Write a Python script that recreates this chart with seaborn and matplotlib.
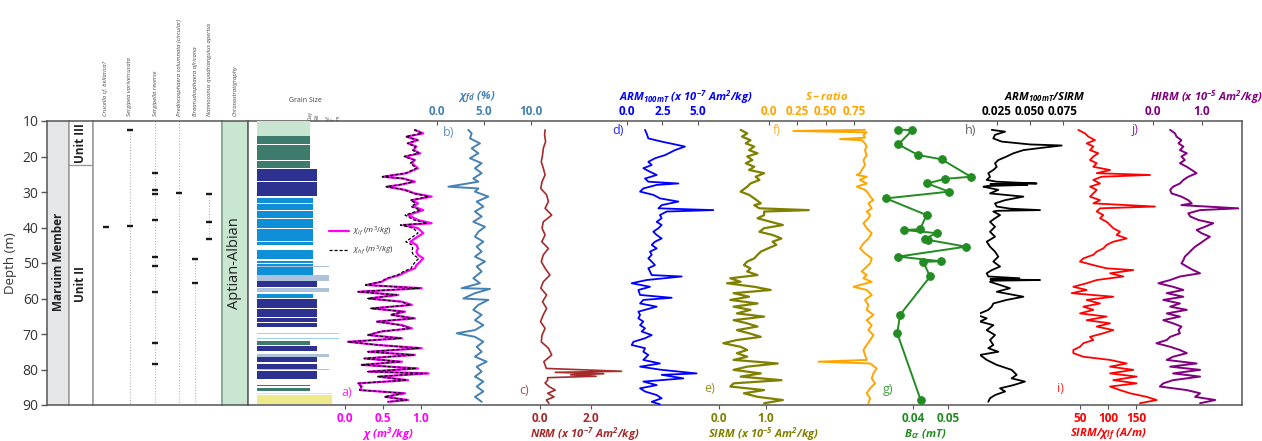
import matplotlib
matplotlib.use("Agg")
import matplotlib.pyplot as plt
import seaborn as sns

# ---------------------------------------------------------------- data
# a) magnetic susceptibility (low / high frequency)
chi_depth = [12.5, 13.5, 14.4, 15.4, 16.3, 17.2, 18.2, 19.1, 20.0, 21.0, 21.9, 23.3, 24.7, 25.7,
             26.2, 27.1, 28.0, 28.5, 29.4, 30.4, 31.3, 32.3, 33.2, 34.1, 35.1, 36.5, 37.9, 38.8,
             39.3, 40.2, 41.6, 43.1, 44.0, 44.9, 45.9, 46.8, 47.7, 48.7, 49.6, 50.6, 51.5, 52.4,
             53.4, 54.3, 55.3, 56.2, 57.1, 58.1, 59.0, 60.0, 60.9, 61.8, 62.8, 63.7, 64.6, 65.6,
             66.5, 67.5, 68.4, 69.3, 70.3, 71.2, 72.2, 73.1, 74.0, 75.0, 75.9, 76.9, 77.8, 78.7,
             79.7, 80.6, 81.1, 82.0, 83.0, 83.9, 84.8, 85.8, 86.7, 87.7, 88.6, 89.1]
chi_lf = [0.92, 1.03, 0.81, 0.96, 0.83, 0.94, 0.90, 0.99, 0.79, 0.92, 0.88, 0.96, 0.81, 0.50,
          0.77, 0.92, 0.72, 0.55, 0.79, 0.92, 1.14, 0.88, 0.96, 0.90, 1.03, 0.83, 0.96, 1.14,
          0.77, 0.96, 1.03, 0.92, 0.86, 0.94, 0.96, 0.94, 0.96, 1.03, 0.99, 0.94, 0.92, 0.81,
          0.72, 0.57, 0.48, 0.28, 1.01, 0.18, 0.70, 0.31, 0.75, 0.88, 0.35, 0.79, 0.61, 0.92,
          0.42, 0.75, 0.88, 0.48, 0.31, 0.75, 0.04, 0.44, 1.01, 0.31, 0.92, 0.26, 0.75, 0.22,
          0.96, 0.31, 1.10, 0.44, 0.83, 0.18, 0.22, 0.20, 0.79, 0.53, 0.83, 0.57]
chi_hf = [0.91, 1.01, 0.80, 0.95, 0.82, 0.93, 0.89, 0.97, 0.78, 0.91, 0.86, 0.94, 0.80, 0.49,
          0.76, 0.90, 0.71, 0.54, 0.78, 0.90, 1.10, 0.86, 0.93, 0.87, 0.99, 0.79, 0.91, 1.08,
          0.73, 0.90, 0.96, 0.86, 0.80, 0.88, 0.89, 0.88, 0.90, 0.97, 0.93, 0.89, 0.87, 0.77,
          0.69, 0.55, 0.47, 0.27, 0.98, 0.17, 0.68, 0.30, 0.73, 0.86, 0.34, 0.77, 0.60, 0.90,
          0.41, 0.73, 0.86, 0.47, 0.30, 0.73, 0.04, 0.43, 0.98, 0.30, 0.90, 0.25, 0.73, 0.21,
          0.94, 0.30, 1.07, 0.43, 0.81, 0.17, 0.21, 0.19, 0.77, 0.52, 0.81, 0.56]

# b) frequency-dependent susceptibility (%)
chifd_depth = [12.5, 13.5, 14.9, 16.3, 17.7, 19.1, 20.5, 21.9, 23.3, 24.7, 26.2, 27.1, 28.5, 29.0,
               29.9, 31.3, 32.7, 34.1, 35.5, 36.9, 38.4, 39.8, 41.2, 42.6, 44.0, 45.4, 46.8, 48.2,
               49.6, 51.0, 52.4, 54.3, 55.7, 57.1, 57.3, 58.5, 60.0, 60.4, 61.8, 63.2, 64.6, 66.1,
               67.5, 68.9, 69.8, 70.8, 72.2, 73.6, 75.0, 76.4, 77.8, 79.2, 80.6, 82.0, 83.4, 84.8,
               86.2, 87.7, 89.1]
chifd = [3.33, 3.69, 3.51, 4.57, 3.69, 4.40, 3.51, 4.75, 4.04, 4.75, 3.86, 4.40, 1.21, 4.40,
         4.04, 5.46, 4.22, 4.93, 4.04, 4.75, 3.86, 5.10, 4.40, 4.04, 4.93, 4.22, 4.75, 4.04,
         5.10, 4.22, 4.75, 3.86, 4.57, 2.62, 5.64, 4.04, 2.80, 5.46, 4.40, 3.86, 4.75, 4.04,
         4.93, 4.04, 2.09, 4.04, 4.93, 4.22, 4.75, 4.04, 5.28, 4.22, 4.75, 4.04, 4.93, 4.22,
         4.93, 4.04, 4.75]

# c) natural remanent magnetisation (x 1e-7 Am2/kg)
nrm_depth = [12.5, 13.9, 15.8, 17.7, 19.6, 21.5, 23.3, 25.2, 27.1, 29.0, 30.8, 32.7, 34.6, 36.5,
             38.4, 40.2, 42.1, 44.0, 45.9, 47.7, 49.6, 51.5, 53.4, 55.3, 57.1, 59.0, 60.9, 62.8,
             64.6, 66.5, 68.4, 70.3, 72.2, 74.0, 75.9, 77.8, 79.7, 80.5, 80.8, 81.2, 81.5, 81.9,
             82.3, 83.0, 83.8, 84.8, 85.8, 86.7, 87.7, 88.6, 89.5]
nrm = [0.20, 0.18, 0.22, 0.13, 0.10, 0.05, 0.13, 0.20, 0.08, 0.03, 0.26, 0.33, 0.20, 0.46,
       0.13, 0.08, 0.20, 0.07, 0.33, 0.13, 0.05, 0.20, 0.39, 0.13, 0.03, 0.26, 0.10, 0.26,
       0.13, 0.02, 0.20, 0.08, 0.05, 0.33, 0.46, 0.15, 0.25, 3.20, 0.60, 2.50, 1.20, 2.20,
       0.30, 0.30, 0.20, 0.35, 0.60, 0.30, 0.55, 0.25, 0.35]

# d) ARM 100 mT (x 1e-7 Am2/kg)
arm_depth = [12.5, 13.5, 14.9, 15.8, 16.8, 17.2, 18.2, 19.6, 20.5, 21.5, 22.4, 23.3, 24.3, 25.2,
             26.2, 27.1, 27.6, 28.0, 29.0, 29.9, 30.8, 31.8, 32.7, 33.7, 34.6, 35.1, 35.5, 36.5,
             37.4, 38.4, 39.3, 40.2, 41.2, 42.1, 43.1, 44.0, 44.9, 45.9, 46.8, 47.7, 48.7, 49.6,
             50.6, 51.5, 52.4, 53.4, 53.8, 54.8, 55.7, 56.7, 57.6, 59.0, 59.8, 60.4, 61.4, 62.3,
             63.7, 64.6, 65.6, 66.5, 67.5, 68.4, 69.3, 70.3, 71.2, 72.2, 73.1, 74.0, 75.0, 75.9,
             77.3, 78.3, 79.2, 80.1, 81.1, 81.5, 82.5, 83.4, 84.4, 85.3, 86.2, 87.2, 88.1, 89.1,
             89.8]
arm = [1.27, 1.38, 1.50, 2.44, 3.62, 4.08, 3.38, 2.68, 1.97, 1.50, 1.74, 1.15, 1.62, 2.09,
       1.27, 1.50, 3.62, 2.09, 1.15, 0.92, 1.85, 2.32, 3.62, 2.44, 2.21, 6.08, 2.79, 2.32,
       2.44, 2.09, 2.44, 2.21, 1.85, 2.09, 2.44, 1.97, 1.74, 2.09, 1.62, 1.74, 1.50, 1.74,
       1.97, 1.50, 1.62, 1.74, 3.85, 1.38, 0.33, 1.62, 0.80, 0.92, 3.15, 1.15, 0.92, 2.09,
       0.80, 0.92, 0.80, 1.15, 0.92, 1.27, 1.03, 1.74, 1.27, 0.45, 0.33, 1.27, 1.15, 1.50,
       1.15, 2.32, 0.92, 2.44, 4.90, 2.44, 3.97, 1.15, 2.09, 0.92, 1.27, 2.09, 2.44, 1.74,
       2.32]

# e) SIRM (x 1e-5 Am2/kg)
sirm_depth = [12.5, 13.5, 14.4, 15.4, 16.3, 17.2, 18.2, 19.1, 20.0, 21.0, 21.9, 22.9, 23.8, 24.7,
              25.7, 26.6, 27.6, 28.5, 29.9, 30.8, 31.8, 33.2, 33.7, 34.6, 35.1, 35.5, 36.5, 37.4,
              38.4, 39.3, 40.2, 41.2, 42.1, 43.1, 44.0, 44.9, 45.9, 46.8, 47.7, 48.7, 49.6, 50.6,
              51.5, 52.4, 53.4, 54.3, 55.3, 55.7, 56.7, 57.6, 58.5, 59.5, 60.4, 61.4, 62.3, 63.2,
              64.2, 65.1, 66.1, 67.0, 67.9, 68.9, 69.8, 70.8, 71.7, 72.6, 73.6, 74.5, 75.4, 76.4,
              77.3, 78.3, 79.2, 80.1, 81.1, 82.0, 83.0, 83.9, 84.8, 85.8, 86.7, 87.7, 88.6, 89.5]
sirm = [0.46, 0.60, 0.49, 0.67, 0.57, 0.75, 0.64, 0.82, 0.60, 0.71, 0.57, 0.75, 0.64, 0.96,
        0.78, 0.86, 0.67, 0.60, 0.46, 0.64, 0.75, 0.89, 0.75, 0.86, 1.91, 0.96, 0.96, 0.82,
        1.10, 1.36, 0.96, 0.86, 1.14, 1.33, 1.14, 1.22, 1.04, 0.89, 0.82, 0.75, 0.60, 0.53,
        0.67, 0.60, 0.82, 0.24, 0.46, 0.17, 0.75, 1.10, 0.31, 0.64, 0.24, 0.82, 0.31, 0.67,
        0.38, 0.96, 0.31, 0.60, 0.82, 0.38, 0.64, 0.89, 0.38, 0.09, 0.46, 0.60, 0.38, 0.60,
        0.31, 1.25, 0.60, 0.31, 0.89, 0.46, 1.33, 0.31, 0.24, 0.96, 0.53, 0.82, 1.36, 0.96]

# f) S-ratio
sratio_depth = [12.5, 12.8, 13.2, 13.9, 14.7, 15.1, 15.4, 16.3, 17.2, 18.2, 19.6, 21.0, 22.4, 23.8,
                24.7, 25.2, 25.7, 26.6, 27.6, 28.5, 29.4, 30.4, 31.3, 32.3, 33.2, 34.6, 35.5, 36.5,
                37.4, 38.8, 40.2, 41.6, 43.1, 44.5, 45.9, 47.3, 48.7, 50.1, 51.5, 52.4, 53.4, 54.3,
                55.3, 56.7, 57.6, 59.0, 60.4, 61.8, 63.2, 64.6, 66.1, 67.5, 68.9, 70.3, 71.7, 73.1,
                74.5, 75.9, 77.3, 77.8, 78.3, 79.7, 81.1, 82.5, 83.9, 85.3, 86.7, 88.1, 89.5]
sratio = [0.846, 0.214, 0.861, 0.832, 0.846, 0.626, 0.817, 0.846, 0.861, 0.846, 0.861, 0.832,
          0.846, 0.817, 0.802, 0.773, 0.861, 0.802, 0.861, 0.773, 0.846, 0.876, 0.891, 0.920,
          0.876, 0.905, 0.861, 0.891, 0.876, 0.832, 0.861, 0.905, 0.876, 0.832, 0.802, 0.846,
          0.905, 0.891, 0.846, 0.817, 0.861, 0.832, 0.905, 0.744, 0.861, 0.905, 0.846, 0.876,
          0.861, 0.920, 0.861, 0.905, 0.876, 0.920, 0.891, 0.861, 0.832, 0.846, 0.861, 0.435,
          0.891, 0.949, 0.920, 0.905, 0.935, 0.891, 0.861, 0.891, 0.876]

# g) coercivity of remanence (mT)
bcr_depth = [12.4, 12.6, 16.6, 19.6, 20.8, 25.7, 26.3, 27.6, 29.9, 31.8, 36.5, 40.5, 40.7, 41.6,
             43.1, 43.5, 45.4, 48.2, 49.5, 49.7, 53.8, 64.6, 69.8, 88.6]
bcr = [0.0358, 0.0398, 0.0358, 0.0415, 0.0482, 0.0565, 0.0491, 0.0441, 0.0503, 0.0323, 0.0439,
       0.0420, 0.0374, 0.0468, 0.0434, 0.0444, 0.0551, 0.0358, 0.0479, 0.0429, 0.0449, 0.0363,
       0.0355, 0.0422]

# h) ARM100mT / SIRM
ratio_depth = [12.5, 13.0, 13.9, 14.9, 15.8, 16.6, 16.9, 17.5, 18.2, 19.1, 20.0, 21.0, 21.9, 22.9,
               23.8, 24.7, 25.7, 26.6, 27.1, 27.4, 27.6, 27.8, 28.0, 28.3, 28.5, 29.4, 30.4, 31.3,
               32.3, 33.2, 34.1, 34.7, 35.1, 35.3, 35.5, 36.5, 37.4, 38.4, 39.8, 41.2, 42.6, 44.0,
               45.4, 46.8, 48.2, 49.6, 51.0, 52.0, 52.9, 53.8, 54.3, 54.6, 54.8, 55.0, 55.3, 56.2,
               57.1, 58.1, 59.5, 60.4, 61.4, 62.3, 63.2, 64.6, 65.6, 66.5, 67.5, 68.9, 70.3, 71.7,
               73.1, 74.0, 75.0, 75.9, 77.3, 78.7, 80.1, 81.5, 82.5, 83.4, 84.4, 85.3, 86.2, 87.2,
               88.1, 89.1]
arm_sirm = [0.0210, 0.0311, 0.0235, 0.0222, 0.0285, 0.0500, 0.0740, 0.0601, 0.0450, 0.0374,
            0.0323, 0.0260, 0.0235, 0.0248, 0.0222, 0.0184, 0.0197, 0.0172, 0.0248, 0.0420,
            0.0550, 0.0200, 0.0480, 0.0180, 0.0147, 0.0260, 0.0197, 0.0450, 0.0311, 0.0235,
            0.0248, 0.0350, 0.0576, 0.0250, 0.0222, 0.0273, 0.0235, 0.0197, 0.0235, 0.0197,
            0.0235, 0.0172, 0.0197, 0.0235, 0.0260, 0.0222, 0.0273, 0.0210, 0.0172, 0.0184,
            0.0420, 0.0200, 0.0576, 0.0210, 0.0197, 0.0273, 0.0348, 0.0248, 0.0450, 0.0323,
            0.0222, 0.0210, 0.0184, 0.0096, 0.0172, 0.0121, 0.0222, 0.0172, 0.0235, 0.0197,
            0.0222, 0.0184, 0.0260, 0.0121, 0.0172, 0.0248, 0.0361, 0.0399, 0.0361, 0.0462,
            0.0374, 0.0273, 0.0311, 0.0235, 0.0197, 0.0184]

# i) SIRM / chi_lf (A/m)
sirm_chi_depth = [12.5, 13.5, 14.4, 15.4, 16.3, 17.2, 18.2, 19.1, 20.0, 21.0, 21.9, 22.9, 23.8,
                  24.7, 25.2, 25.7, 26.6, 27.6, 28.5, 29.4, 30.4, 31.3, 32.3, 33.2, 34.1, 34.6,
                  35.5, 36.5, 37.4, 38.4, 39.3, 40.2, 41.2, 42.1, 43.1, 44.0, 44.9, 45.9, 46.8,
                  47.7, 48.7, 49.6, 50.6, 51.5, 52.0, 52.9, 53.8, 54.8, 55.7, 56.7, 57.6, 58.5,
                  59.5, 60.4, 61.4, 62.3, 63.2, 64.2, 65.1, 66.1, 67.0, 67.9, 68.9, 69.8, 70.8,
                  71.7, 72.6, 73.6, 74.5, 75.4, 76.4, 77.3, 78.3, 79.2, 80.1, 81.1, 82.0, 83.0,
                  83.9, 84.8, 85.8, 86.7, 87.7, 88.6, 89.5]
sirm_chi = [47.0, 58.9, 64.9, 76.8, 61.9, 73.8, 67.9, 82.7, 73.8, 67.9, 79.8, 73.8, 103.6,
            79.8, 175.0, 88.7, 73.8, 85.7, 67.9, 79.8, 73.8, 67.9, 85.7, 73.8, 183.9, 85.7,
            79.8, 91.6, 85.7, 97.6, 103.6, 109.5, 121.4, 115.5, 133.3, 109.5, 97.6, 91.6, 79.8,
            73.8, 55.9, 50.0, 73.8, 97.6, 145.2, 103.6, 127.4, 79.8, 61.9, 38.1, 61.9, 35.1,
            109.5, 61.9, 85.7, 55.9, 73.8, 50.0, 97.6, 61.9, 103.6, 79.8, 109.5, 91.6, 67.9,
            73.8, 55.9, 50.0, 38.1, 38.1, 55.9, 103.6, 133.3, 103.6, 145.2, 103.6, 151.2, 109.5,
            151.2, 103.6, 121.4, 139.3, 169.0, 186.9, 157.1]

# j) HIRM (x 1e-5 Am2/kg)
hirm_depth = [12.5, 13.5, 14.4, 15.4, 16.3, 17.2, 18.2, 19.1, 20.0, 21.0, 21.9, 22.9, 23.8, 24.7,
              25.7, 26.6, 27.6, 28.5, 29.4, 30.4, 31.3, 32.3, 33.2, 33.7, 34.6, 35.1, 36.0, 36.9,
              37.9, 38.8, 39.8, 40.7, 41.6, 42.6, 43.5, 44.5, 45.4, 46.3, 47.3, 48.2, 49.2, 50.1,
              51.0, 52.0, 52.9, 53.8, 54.8, 55.7, 56.7, 57.6, 58.5, 59.5, 60.4, 61.4, 62.3, 63.2,
              64.2, 65.1, 66.1, 67.0, 67.9, 68.9, 69.8, 70.8, 71.7, 72.6, 73.6, 74.5, 75.4, 76.4,
              77.3, 78.3, 79.2, 80.1, 81.1, 82.0, 83.0, 83.9, 84.8, 85.8, 86.7, 87.7, 88.6, 89.5]
hirm = [0.35, 0.45, 0.48, 0.58, 0.52, 0.62, 0.55, 0.69, 0.58, 0.65, 0.55, 0.69, 0.79, 0.89,
        0.72, 0.62, 0.55, 0.41, 0.35, 0.38, 0.58, 0.72, 0.79, 0.58, 1.74, 0.96, 0.72, 0.76,
        0.93, 1.23, 1.06, 0.89, 0.99, 1.16, 1.06, 0.96, 0.86, 0.79, 0.72, 0.65, 0.62, 0.58,
        0.69, 0.82, 0.96, 0.55, 0.35, 0.11, 0.41, 0.62, 0.28, 0.62, 0.21, 0.55, 0.35, 0.69,
        0.28, 0.55, 0.21, 0.41, 0.58, 0.52, 0.55, 0.35, 0.28, 0.07, 0.35, 0.55, 0.69, 0.41,
        0.28, 0.89, 0.35, 0.96, 0.41, 0.96, 0.41, 0.21, 0.14, 0.69, 0.96, 0.86, 1.27, 0.96]

# lithology log: layer top, layer base, grain-size reach, facies
litho_top = [10.0, 14.3, 16.7, 19.4, 21.2, 23.4, 27.2, 29.0, 31.6, 33.3, 35.4, 37.5, 40.4, 42.2,
             44.1, 46.2, 46.7, 49.3, 50.2, 50.9, 51.2, 53.4, 55.2, 57.1, 58.6, 60.1, 62.9, 65.4,
             66.9, 68.8, 69.7, 71.1, 71.9, 73.4, 75.6, 76.6, 78.5, 79.9, 80.3, 84.5, 84.8, 85.3,
             86.2, 86.7, 87.2]
litho_base = [14.1, 16.5, 19.2, 21.0, 23.2, 27.0, 28.8, 31.1, 33.1, 35.2, 37.3, 40.0, 42.0, 43.9,
              44.8, 46.5, 49.0, 50.0, 50.9, 51.1, 53.3, 55.0, 56.8, 58.1, 59.9, 62.7, 65.2, 66.7,
              67.9, 69.0, 69.9, 71.3, 73.2, 74.8, 76.4, 78.0, 79.8, 80.2, 82.7, 84.7, 85.0, 86.0,
              86.4, 86.9, 89.7]
litho_size = [53, 53, 53, 53, 53, 60, 60, 60, 56, 56, 56, 56, 56, 56,
              56, 56, 56, 56, 56, 72, 56, 72, 60, 72, 56, 60, 60, 60,
              60, 82, 82, 82, 53, 60, 72, 60, 60, 72, 60, 53, 80, 53,
              75, 75, 75]
litho_facies = ["lg", "teal", "teal", "teal", "teal", "navy", "navy", "navy", "blue", "blue",
                "blue", "blue", "blue", "blue", "blue", "blue", "blue", "blue", "blue", "steel",
                "blue", "steel", "navy", "steel", "blue", "navy", "navy", "navy", "navy", "lblue",
                "lblue", "lblue", "teal", "navy", "steel", "navy", "navy", "steel", "navy", "teal",
                "yellow", "teal", "yellow", "yellow", "yellow"]
grain_ticks = [53, 60, 71, 76, 81]
grain_labels = ["Clay", "Silt", "vf", "f", "m"]

# biostratigraphic occurrences
species = ["Crucella cf. bellarica?", "Sergipea variverrucata", "Sergipella reverse",
           "Prediscosphaera columnata (circular)", "Braarudosphaera africana",
           "Nannoconus quadriangulus apertus"]
occurrences = [[39.9],
               [12.5, 39.6],
               [24.6, 29.3, 30.5, 37.9, 48.2, 50.8, 58.2, 72.4, 78.5],
               [30.2],
               [48.8, 55.7],
               [30.6, 38.4, 43.1]]
range_top = [None, 12.5, 10.0, 10.0, 48.8, 30.6]
range_base = [None, 90.0, 90.0, 90.0, 90.0, 43.1]

unit_boundary = 22.5

# ---------------------------------------------------------------- style
W, H = 1262, 441
Y_TOP, Y_BOT = 121, 405
DMIN, DMAX = 10, 90

sns.set_style("white")
plt.rcParams["font.family"] = ["Open Sans", "DejaVu Sans"]
plt.rcParams["mathtext.fontset"] = "custom"
plt.rcParams["mathtext.rm"] = "Open Sans"
plt.rcParams["mathtext.it"] = "Open Sans:italic"
plt.rcParams["mathtext.bf"] = "Open Sans:italic:bold"

FRAME = "#555555"
SEP = "#9a9a9a"
FACIES = {"lg": "#c9e4d1", "teal": "#3d7c6d", "navy": "#2d3290", "blue": "#0f8fd8",
          "steel": "#acc3da", "lblue": "#9dd3f1", "yellow": "#eeea8a"}

fig = plt.figure(figsize=(W / 100, H / 100), dpi=100)


def px_axes(x0, x1):
    return fig.add_axes([x0 / W, 1 - Y_BOT / H, (x1 - x0) / W, (Y_BOT - Y_TOP) / H])


def fx(px):
    return px / W


def fy(py):
    return 1 - py / H


def style_spines(ax, color=FRAME, lw=1.1, side_color=None):
    for s, sp in ax.spines.items():
        sp.set_visible(True)
        sp.set_color(color if s in ("top", "bottom") else (side_color or color))
        sp.set_linewidth(lw)


# ---------------------------------------------------------------- lithostratigraphy columns
ax_mem = px_axes(47, 69)
ax_mem.set_facecolor("#e5e6e7")
ax_mem.set_ylim(DMAX, DMIN)
ax_mem.set_xlim(0, 1)
ax_mem.set_xticks([])
ax_mem.set_yticks(range(10, 91, 10))
ax_mem.tick_params(axis="y", direction="out", length=4, width=1, color=FRAME,
                   labelsize=10, labelcolor="#333333", pad=2, left=True)
ax_mem.set_ylabel("Depth (m)", fontsize=9.5, color="#333333", labelpad=4)
style_spines(ax_mem, side_color=SEP)
ax_mem.spines["left"].set_color(FRAME)
ax_mem.text(0.5, 49.7, "Maruim Member", rotation=90, ha="center", va="center",
            fontsize=8.5, fontweight="bold", color="#222222")

ax_unit = px_axes(69, 93)
ax_unit.set_ylim(DMAX, DMIN)
ax_unit.set_xlim(0, 1)
ax_unit.set_xticks([])
ax_unit.set_yticks([])
style_spines(ax_unit, side_color=SEP)
ax_unit.axhline(unit_boundary, color=SEP, lw=1)
ax_unit.text(0.5, (DMIN + unit_boundary) / 2, "Unit III", rotation=90, ha="center", va="center",
             fontsize=8.5, fontweight="bold", color="#222222")
ax_unit.text(0.5, 56, "Unit II", rotation=90, ha="center", va="center",
             fontsize=8.5, fontweight="bold", color="#222222")

# ---------------------------------------------------------------- biostratigraphy
species_px = [106, 130, 155, 179, 195, 209]
ax_fos = px_axes(93, 222)
ax_fos.set_ylim(DMAX, DMIN)
ax_fos.set_xlim(93, 222)
ax_fos.set_xticks([])
ax_fos.set_yticks([])
style_spines(ax_fos, side_color=SEP)
for xpos, depths, t0, t1 in zip(species_px, occurrences, range_top, range_base):
    if t0 is not None:
        ax_fos.vlines(xpos, t0, t1, colors="#b5b5b5", linestyles=(0, (1, 1.5)), lw=0.8)
    ax_fos.hlines(depths, xpos - 3, xpos + 3, colors="#1a1a1a", lw=1.7)
for xpos, name in zip(species_px, species):
    fig.text(fx(xpos), fy(116), name, rotation=90, ha="center", va="bottom",
             fontsize=4.2, style="italic", color="#444444")

ax_chron = px_axes(222, 248)
ax_chron.set_facecolor("#c8e6d0")
ax_chron.set_ylim(DMAX, DMIN)
ax_chron.set_xticks([])
ax_chron.set_yticks([])
style_spines(ax_chron, side_color="#7fa58c")
ax_chron.text(0.5, 50, "Aptian-Albian", rotation=90, ha="center", va="center",
              fontsize=10.5, color="#222222", transform=ax_chron.get_yaxis_transform())
fig.text(fx(235), fy(116), "Chronostratigraphy", rotation=90, ha="center", va="bottom",
         fontsize=4.2, style="italic", color="#444444")

# ---------------------------------------------------------------- main frame
ax_main = px_axes(248, 1242)
ax_main.set_xticks([])
ax_main.set_yticks([])
ax_main.set_ylim(DMAX, DMIN)
style_spines(ax_main)

# grain-size log
ax_gs = px_axes(257, 345)
ax_gs.patch.set_visible(False)
mids = [(t + b) / 2 for t, b in zip(litho_top, litho_base)]
thick = [b - t for t, b in zip(litho_top, litho_base)]
ax_gs.barh(mids, litho_size, height=thick, left=0, align="center",
           color=[FACIES[f] for f in litho_facies], edgecolor="none")
ax_gs.set_ylim(DMAX, DMIN)
ax_gs.set_xlim(0, 88)
ax_gs.set_yticks([])
ax_gs.xaxis.tick_top()
ax_gs.set_xticks(grain_ticks)
ax_gs.set_xticklabels(grain_labels, rotation=90, fontsize=3.3, color="#444444")
ax_gs.tick_params(axis="x", length=0, pad=1)
for sp in ax_gs.spines.values():
    sp.set_visible(False)
fig.text(fx(305), fy(101), "Grain Size", ha="center", va="center", fontsize=5, color="#444444")

# ---------------------------------------------------------------- curve panels
C_CHI, C_FD, C_NRM, C_ARM = "#ff00ff", "#4682b4", "#a52a2a", "#0000ff"
C_SIRM, C_S, C_BCR, C_RAT = "#808000", "#ffa500", "#228b22", "#000000"
C_SCHI, C_HIRM = "#ff0000", "#800080"


def curve(ax, x, y, color, **kw):
    sns.lineplot(x=x, y=y, ax=ax, color=color, orient="y", sort=False,
                 estimator=None, **kw)


def finish_panel(ax, xlim, ticks, labels, side, color):
    ax.patch.set_visible(False)
    for sp in ax.spines.values():
        sp.set_visible(False)
    ax.set_ylim(DMAX, DMIN)
    ax.set_xlim(*xlim)
    ax.set_yticks([])
    ax.set_ylabel("")
    ax.set_xlabel("")
    if side == "top":
        ax.xaxis.tick_top()
        ax.tick_params(axis="x", direction="in", length=3, width=0.8, color=FRAME, pad=2.5)
    else:
        ax.xaxis.tick_bottom()
        ax.tick_params(axis="x", direction="out", length=3, width=0.8, color=FRAME, pad=2.0)
    ax.set_xticks(ticks)
    ax.set_xticklabels(labels, fontsize=8.5, fontweight="bold", color=color)
    return ax


def make_panel(x0, x1, xlim, ticks, labels, side, color, x, y, **kw):
    ax = px_axes(x0, x1)
    curve(ax, x, y, color, **kw)
    return finish_panel(ax, xlim, ticks, labels, side, color)


# a) chi, low and high frequency
ax_a = px_axes(330, 440)
curve(ax_a, chi_lf, chi_depth, C_CHI, lw=1.6)
curve(ax_a, chi_hf, chi_depth, "black", lw=0.9, linestyle=(0, (2.5, 1.5)))
finish_panel(ax_a, (-0.197, 1.25), [0, 0.5, 1.0], ["0.0", "0.5", "1.0"], "bottom", C_CHI)
leg = ax_a.legend(handles=ax_a.lines[:2],
                  labels=[r"$\chi_{lf}\ (m^3/kg)$", r"$\chi_{hf}\ (m^3/kg)$"],
                  loc="upper left", bbox_to_anchor=(fx(326), fy(222)),
                  bbox_transform=fig.transFigure, frameon=False, fontsize=5.8,
                  handlelength=2.4, labelspacing=0.7, borderaxespad=0, handletextpad=0.6)
for t in leg.get_texts():
    t.set_color("#333333")

make_panel(430, 545, (-0.745, 11.489), [0, 5, 10], ["0.0", "5.0", "10.0"], "top", C_FD,
           chifd, chifd_depth, lw=1.4)
make_panel(525, 640, (-0.588, 3.922), [0, 2], ["0.0", "2.0"], "bottom", C_NRM,
           nrm, nrm_depth, lw=1.2)
make_panel(612, 720, (-1.056, 6.549), [0, 2.5, 5], ["0.0", "2.5", "5.0"], "top", C_ARM,
           arm, arm_depth, lw=1.3)
make_panel(705, 815, (-0.298, 2.043), [0, 1], ["0.0", "1.0"], "bottom", C_SIRM,
           sirm, sirm_depth, lw=1.6)
make_panel(765, 880, (-0.0352, 0.978), [0, 0.25, 0.5, 0.75], ["0.0", "0.25", "0.50", "0.75"],
           "top", C_S, sratio, sratio_depth, lw=1.4)
make_panel(880, 980, (0.030571, 0.059143), [0.04, 0.05], ["0.04", "0.05"], "bottom", C_BCR,
           bcr, bcr_depth, lw=1.4, marker="o", markersize=5.5, markeredgecolor=C_BCR)
make_panel(980, 1075, (0.012121, 0.084091), [0.025, 0.05, 0.075], ["0.025", "0.050", "0.075"],
           "top", C_RAT, arm_sirm, ratio_depth, lw=1.3)
make_panel(1062, 1160, (17.857, 192.857), [50, 100, 150], ["50", "100", "150"], "bottom", C_SCHI,
           sirm_chi, sirm_chi_depth, lw=1.3)
make_panel(1140, 1242, (-0.2653, 1.8163), [0, 1], ["0.0", "1.0"], "top", C_HIRM,
           hirm, hirm_depth, lw=1.4)

# axis titles
top_titles = [(477, r"$\mathbf{\chi_{fd}\ (\%)}$", C_FD),
              (686, r"$\mathbf{ARM_{100mT}\ (x\ 10^{-7}\ Am^2/kg)}$", C_ARM),
              (827, r"$\mathbf{S-ratio}$", C_S),
              (1045, r"$\mathbf{ARM_{100mT}/SIRM}$", C_RAT),
              (1206, r"$\mathbf{HIRM\ (x\ 10^{-5}\ Am^2/kg)}$", C_HIRM)]
for xp, txt, c in top_titles:
    fig.text(fx(xp), fy(97), txt, ha="center", va="center", fontsize=8, color=c)

bottom_titles = [(388, r"$\mathbf{\chi\ (m^3/kg)}$", C_CHI),
                 (585, r"$\mathbf{NRM\ (x\ 10^{-7}\ Am^2/kg)}$", C_NRM),
                 (763, r"$\mathbf{SIRM\ (x\ 10^{-5}\ Am^2/kg)}$", C_SIRM),
                 (925, r"$\mathbf{B_{cr}\ (mT)}$", C_BCR),
                 (1108, r"$\mathbf{SIRM/\chi_{lf}\ (A/m)}$", C_SCHI)]
for xp, txt, c in bottom_titles:
    fig.text(fx(xp), fy(434), txt, ha="center", va="center", fontsize=8, color=c)

# panel letters
letters = [(347, 393, "a)", C_CHI), (449, 132, "b)", C_FD), (524, 390, "c)", C_NRM),
           (618, 130, "d)", C_ARM), (710, 388, "e)", C_SIRM), (777, 130, "f)", C_S),
           (888, 389, "g)", C_BCR), (971, 130, "h)", "#444444"), (1060, 388, "i)", C_SCHI),
           (1135, 130, "j)", C_HIRM)]
for xp, yp, txt, c in letters:
    fig.text(fx(xp), fy(yp), txt, ha="center", va="center", fontsize=9, color=c, alpha=0.85)

fig.savefig("out.png", dpi=100)
